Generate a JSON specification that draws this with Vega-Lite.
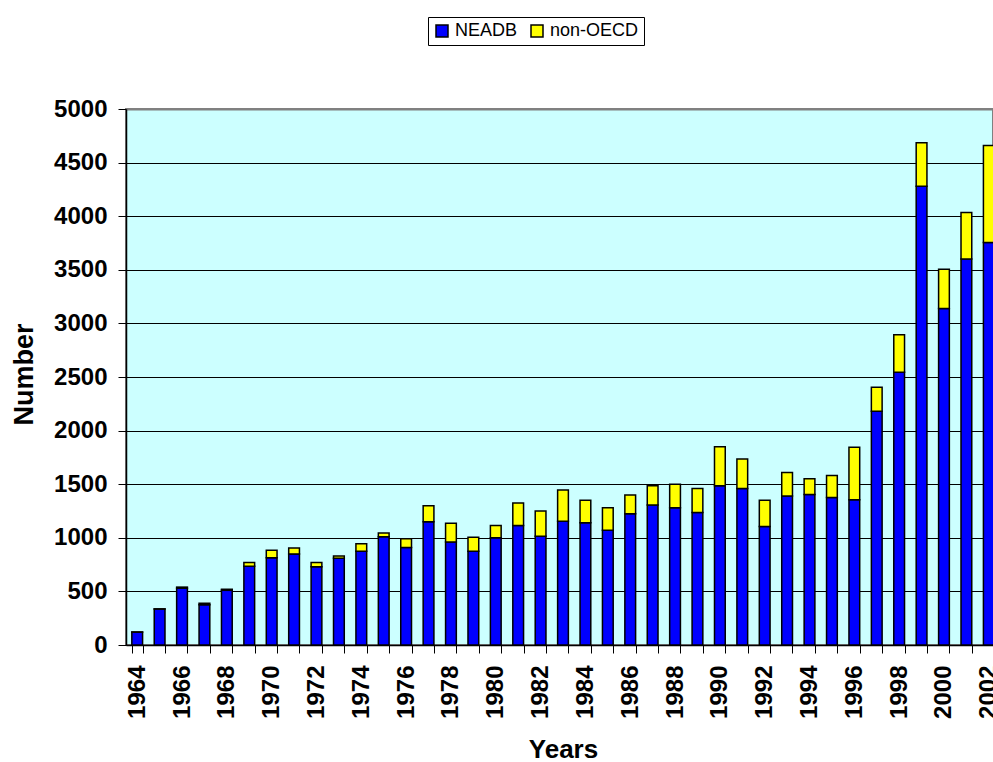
{
  "$schema": "https://vega.github.io/schema/vega-lite/v6.json",
  "autosize": {"type": "none"},
  "padding": {"left": 126, "top": 109, "right": 0, "bottom": 117},
  "width": 867,
  "height": 536,
  "background": "white",
  "config": {
    "font": "Liberation Sans",
    "view": {"fill": "#CCFFFF", "stroke": "#808080", "strokeWidth": 2}
  },
  "datasets": {
    "counts": [
      {"year": 1964, "series": "NEADB", "value": 120}, {"year": 1964, "series": "non-OECD", "value": 2},
      {"year": 1965, "series": "NEADB", "value": 335}, {"year": 1965, "series": "non-OECD", "value": 2},
      {"year": 1966, "series": "NEADB", "value": 530}, {"year": 1966, "series": "non-OECD", "value": 10},
      {"year": 1967, "series": "NEADB", "value": 375}, {"year": 1967, "series": "non-OECD", "value": 15},
      {"year": 1968, "series": "NEADB", "value": 510}, {"year": 1968, "series": "non-OECD", "value": 10},
      {"year": 1969, "series": "NEADB", "value": 735}, {"year": 1969, "series": "non-OECD", "value": 35},
      {"year": 1970, "series": "NEADB", "value": 815}, {"year": 1970, "series": "non-OECD", "value": 70},
      {"year": 1971, "series": "NEADB", "value": 850}, {"year": 1971, "series": "non-OECD", "value": 55},
      {"year": 1972, "series": "NEADB", "value": 730}, {"year": 1972, "series": "non-OECD", "value": 40},
      {"year": 1973, "series": "NEADB", "value": 810}, {"year": 1973, "series": "non-OECD", "value": 20},
      {"year": 1974, "series": "NEADB", "value": 875}, {"year": 1974, "series": "non-OECD", "value": 70},
      {"year": 1975, "series": "NEADB", "value": 1010}, {"year": 1975, "series": "non-OECD", "value": 35},
      {"year": 1976, "series": "NEADB", "value": 910}, {"year": 1976, "series": "non-OECD", "value": 80},
      {"year": 1977, "series": "NEADB", "value": 1150}, {"year": 1977, "series": "non-OECD", "value": 150},
      {"year": 1978, "series": "NEADB", "value": 960}, {"year": 1978, "series": "non-OECD", "value": 175},
      {"year": 1979, "series": "NEADB", "value": 875}, {"year": 1979, "series": "non-OECD", "value": 130},
      {"year": 1980, "series": "NEADB", "value": 1000}, {"year": 1980, "series": "non-OECD", "value": 115},
      {"year": 1981, "series": "NEADB", "value": 1115}, {"year": 1981, "series": "non-OECD", "value": 210},
      {"year": 1982, "series": "NEADB", "value": 1015}, {"year": 1982, "series": "non-OECD", "value": 235},
      {"year": 1983, "series": "NEADB", "value": 1155}, {"year": 1983, "series": "non-OECD", "value": 290},
      {"year": 1984, "series": "NEADB", "value": 1140}, {"year": 1984, "series": "non-OECD", "value": 210},
      {"year": 1985, "series": "NEADB", "value": 1070}, {"year": 1985, "series": "non-OECD", "value": 210},
      {"year": 1986, "series": "NEADB", "value": 1225}, {"year": 1986, "series": "non-OECD", "value": 175},
      {"year": 1987, "series": "NEADB", "value": 1305}, {"year": 1987, "series": "non-OECD", "value": 180},
      {"year": 1988, "series": "NEADB", "value": 1280}, {"year": 1988, "series": "non-OECD", "value": 220},
      {"year": 1989, "series": "NEADB", "value": 1235}, {"year": 1989, "series": "non-OECD", "value": 225},
      {"year": 1990, "series": "NEADB", "value": 1485}, {"year": 1990, "series": "non-OECD", "value": 365},
      {"year": 1991, "series": "NEADB", "value": 1460}, {"year": 1991, "series": "non-OECD", "value": 275},
      {"year": 1992, "series": "NEADB", "value": 1105}, {"year": 1992, "series": "non-OECD", "value": 245},
      {"year": 1993, "series": "NEADB", "value": 1390}, {"year": 1993, "series": "non-OECD", "value": 220},
      {"year": 1994, "series": "NEADB", "value": 1405}, {"year": 1994, "series": "non-OECD", "value": 145},
      {"year": 1995, "series": "NEADB", "value": 1375}, {"year": 1995, "series": "non-OECD", "value": 205},
      {"year": 1996, "series": "NEADB", "value": 1355}, {"year": 1996, "series": "non-OECD", "value": 490},
      {"year": 1997, "series": "NEADB", "value": 2180}, {"year": 1997, "series": "non-OECD", "value": 225},
      {"year": 1998, "series": "NEADB", "value": 2545}, {"year": 1998, "series": "non-OECD", "value": 350},
      {"year": 1999, "series": "NEADB", "value": 4280}, {"year": 1999, "series": "non-OECD", "value": 405},
      {"year": 2000, "series": "NEADB", "value": 3140}, {"year": 2000, "series": "non-OECD", "value": 365},
      {"year": 2001, "series": "NEADB", "value": 3600}, {"year": 2001, "series": "non-OECD", "value": 435},
      {"year": 2002, "series": "NEADB", "value": 3755}, {"year": 2002, "series": "non-OECD", "value": 905}
    ]
  },
  "data": {"name": "counts"},
  "mark": {"type": "bar", "stroke": "black", "strokeWidth": 1.5, "clip": true},
  "encoding": {
    "x": {
      "field": "year",
      "type": "ordinal",
      "scale": {"range": [0, 874], "paddingInner": 0.52, "paddingOuter": 0.26},
      "axis": {
        "title": "Years",
        "titleFontSize": 26,
        "titleFontWeight": "bold",
        "titleColor": "black",
        "titleX": 437,
        "titleY": 112,
        "titleBaseline": "alphabetic",
        "titleAlign": "center",
        "labelAngle": -90,
        "labelFontSize": 24,
        "labelFontWeight": "bold",
        "labelColor": "black",
        "labelPadding": 12,
        "labelOverlap": false,
        "labelExpr": "datum.value % 2 == 0 ? datum.label : ''",
        "tickBand": "extent",
        "tickSize": 8,
        "tickColor": "black",
        "domainColor": "black",
        "domainWidth": 1.5,
        "grid": false
      }
    },
    "y": {
      "field": "value",
      "type": "quantitative",
      "stack": "zero",
      "scale": {"domain": [0, 5000], "nice": false},
      "axis": {
        "title": "Number",
        "titleFontSize": 27,
        "titleFontWeight": "bold",
        "titleColor": "black",
        "titleAngle": -90,
        "titleX": -94,
        "titleY": 265,
        "titleBaseline": "alphabetic",
        "titleAlign": "center",
        "values": [0, 500, 1000, 1500, 2000, 2500, 3000, 3500, 4000, 4500, 5000],
        "format": "d",
        "labelFontSize": 24,
        "labelFontWeight": "bold",
        "labelColor": "black",
        "labelPadding": 11,
        "tickSize": 8,
        "tickColor": "black",
        "domainColor": "black",
        "domainWidth": 1.5,
        "grid": true,
        "gridColor": {"condition": {"test": "datum.value == 5000", "value": "#808080"}, "value": "black"},
        "gridWidth": {"condition": {"test": "datum.value == 5000", "value": 2}, "value": 1}
      }
    },
    "color": {
      "field": "series",
      "type": "nominal",
      "scale": {"domain": ["NEADB", "non-OECD"], "range": ["#0000FF", "#FFFF00"]},
      "legend": {
        "title": null,
        "orient": "none",
        "direction": "horizontal",
        "legendX": 302,
        "legendY": -92,
        "padding": 5,
        "strokeColor": "black",
        "fillColor": "white",
        "symbolType": "square",
        "symbolSize": 144,
        "symbolStrokeColor": "black",
        "symbolStrokeWidth": 1.5,
        "symbolOpacity": 1,
        "labelFontSize": 18,
        "labelColor": "black",
        "labelOffset": 4,
        "columnPadding": 10
      }
    },
    "order": {"field": "series", "type": "nominal", "sort": "ascending"}
  }
}
